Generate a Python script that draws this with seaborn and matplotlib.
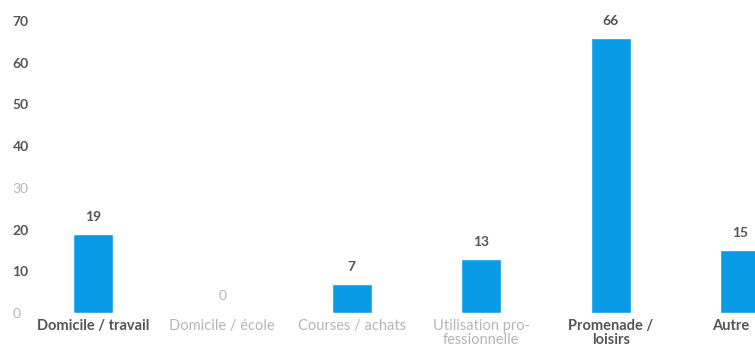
import matplotlib
matplotlib.use("Agg")
import matplotlib.pyplot as plt
import matplotlib.transforms as mtransforms
import seaborn as sns
import pandas as pd

categories = ["Domicile / travail", "Domicile / école", "Courses / achats",
              "Utilisation pro-\nfessionnelle", "Promenade /\nloisirs", "Autre"]
values = [19, 0, 7, 13, 66, 15]
y_ticks = [0, 10, 20, 30, 40, 50, 60, 70]

sns.set_theme(style="white")
plt.rcParams['font.family'] = ['Lato', 'DejaVu Sans']

df = pd.DataFrame({"cat": categories, "val": values})

fig = plt.figure(figsize=(7.55, 3.6), dpi=100)
ax = fig.add_axes([28 / 755, 47 / 360, 777 / 755, 292 / 360])
sns.barplot(data=df, x="cat", y="val", color="#0a9be6", width=0.31,
            saturation=1, ax=ax)

ax.set_xlim(-0.5, 5.5)
ax.set_ylim(0, 70)
ax.set_yticks(y_ticks)
ax.set_xlabel("")
ax.set_ylabel("")
for s in ax.spines.values():
    s.set_visible(False)
ax.tick_params(axis="both", length=0)
ax.tick_params(axis="y", pad=0)
ax.tick_params(axis="x", pad=4)

dark = "#555555"
light = "#b5b5b5"
ytick_style = {0: light, 30: light}
for lbl, t in zip(ax.get_yticklabels(), y_ticks):
    c = ytick_style.get(t, dark)
    lbl.set_color(c)
    lbl.set_fontsize(10)
    lbl.set_fontweight("bold" if c == dark else "normal")
    lbl.set_horizontalalignment("left")
    lbl.set_x(-0.02)

xstyle = [dark, light, light, light, dark, dark]
xlabels = ax.get_xticklabels()
for lbl, c in zip(xlabels, xstyle):
    lbl.set_color(c)
    lbl.set_fontsize(10.5)
    lbl.set_fontweight("bold" if c == dark else "normal")
    lbl.set_linespacing(1.0)
    lbl.set_multialignment("center")
# keep the last label inside the figure
shift = mtransforms.ScaledTranslation(-10 / 100, 0, fig.dpi_scale_trans)
xlabels[-1].set_transform(xlabels[-1].get_transform() + shift)

vstyle = [dark, light, dark, dark, dark, dark]
for i, (v, c) in enumerate(zip(values, vstyle)):
    ax.annotate(str(v), (i, v), xytext=(0, 8), textcoords="offset points",
                ha="center", va="bottom", fontsize=10, color=c,
                fontweight="bold" if c == dark else "normal")

fig.savefig("out.png", dpi=100)
